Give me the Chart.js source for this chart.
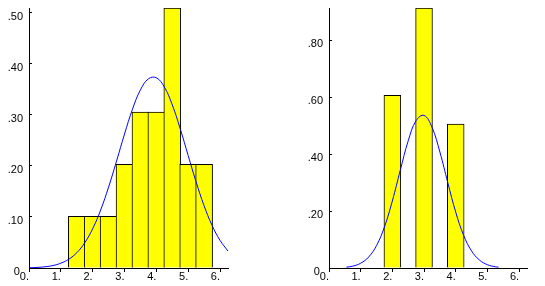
<!DOCTYPE html>
<html>
<head>
<meta charset="utf-8">
<script src="https://cdn.jsdelivr.net/npm/chart.js@4.4.1/dist/chart.umd.min.js"></script>
<style>
  html, body { margin: 0; padding: 0; background: #fff; }
  #wrap { position: relative; width: 545px; height: 286px; overflow: hidden; }
  canvas { position: absolute; top: 0; }
  #histLeft { left: 0; }
  #histRight { left: 250px; }
</style>
</head>
<body>
<div id="wrap">
  <canvas id="histLeft" width="236" height="286"></canvas>
  <canvas id="histRight" width="295" height="286"></canvas>
</div>
<script>
// Histogramme de gauche
const leftBinCenters = [1.5, 2, 2.5, 3, 3.5, 4, 4.5, 5, 5.5];
const leftBarHeights = [0.101, 0.101, 0.101, 0.203, 0.305, 0.305, 0.509, 0.203, 0.203];
const leftCurveX = [0, 0.25, 0.5, 0.75, 1, 1.25, 1.5, 1.75, 2, 2.25, 2.5, 2.75, 3, 3.25,
                    3.5, 3.75, 4, 4.25, 4.5, 4.75, 5, 5.25, 5.5, 5.75, 6, 6.25];
const leftCurveY = [0.0005, 0.0011, 0.0024, 0.0048, 0.0094, 0.0172, 0.0299, 0.0493, 0.0768,
                    0.1134, 0.1584, 0.2094, 0.2622, 0.3108, 0.3487, 0.3703, 0.3724, 0.3544,
                    0.3194, 0.2725, 0.2200, 0.1682, 0.1217, 0.0834, 0.0541, 0.0332];
const leftYTickValues = [0, 0.1, 0.2, 0.3, 0.4, 0.5];
const leftYTickLabels = ['0 ', '.10', '.20', '.30', '.40', '.50'];
const leftYMax = 0.509;

// Histogramme de droite
const rightBinCenters = [2, 3, 4];
const rightBarHeights = [0.606, 0.913, 0.505];
const rightCurveX = [0.55, 0.75, 1, 1.25, 1.5, 1.75, 2, 2.25, 2.5, 2.75, 3, 3.25, 3.5,
                     3.75, 4, 4.25, 4.5, 4.75, 5, 5.25, 5.35];
const rightCurveY = [0.0028, 0.0065, 0.0167, 0.0384, 0.0787, 0.1442, 0.2356, 0.3433, 0.4464,
                     0.5177, 0.5358, 0.4946, 0.4074, 0.2994, 0.1962, 0.1148, 0.0599, 0.0279,
                     0.0116, 0.0043, 0.0028];
const rightYTickValues = [0, 0.2, 0.4, 0.6, 0.8];
const rightYTickLabels = ['0 ', '.20', '.40', '.60', '.80'];
const rightYMax = 0.913;

// Axe horizontal commun
const xTickValues = [0, 1, 2, 3, 4, 5, 6];
const xTickLabels = ['0.', '1.', '2.', '3.', '4.', '5.', '6.'];
const xMax = 6.25;
const binWidth = 0.5;

const axisFont = { family: '"Liberation Sans", Arial, sans-serif', size: 11 };

function makeHistogram(canvas, opts) {
    const plotWidth = canvas.width - opts.yAxisWidth - opts.padRight;
    // bordure de 1px partagée entre barres voisines
    const barPx = plotWidth / xMax * binWidth + 1;

    return new Chart(canvas, {
        type: 'bar',
        data: {
            datasets: [
                {
                    type: 'line',
                    data: opts.curveX.map((x, i) => ({ x: x, y: opts.curveY[i] })),
                    borderColor: '#0000ff',
                    borderWidth: 1,
                    pointRadius: 0,
                    tension: 0.4,
                    fill: false,
                    order: 0
                },
                {
                    data: opts.binCenters.map((x, i) => ({ x: x, y: opts.barHeights[i] })),
                    backgroundColor: '#ffff00',
                    borderColor: '#000000',
                    borderWidth: 1,
                    borderSkipped: 'start',
                    barThickness: barPx,
                    order: 1
                }
            ]
        },
        options: {
            responsive: false,
            animation: false,
            devicePixelRatio: 1,
            layout: { padding: { top: 8, right: opts.padRight, bottom: 0, left: 0 } },
            plugins: { legend: { display: false }, tooltip: { enabled: false } },
            scales: {
                x: {
                    type: 'linear',
                    min: 0,
                    max: xMax,
                    offset: false,
                    afterBuildTicks: scale => { scale.ticks = xTickValues.map(v => ({ value: v })); },
                    afterFit: scale => {
                        scale.height = 18;
                        scale.paddingLeft = 0;
                        scale.paddingRight = 0;
                    },
                    grid: { drawOnChartArea: false, drawTicks: true, tickLength: 4, offset: false, color: '#000' },
                    border: { display: true, color: '#000', width: 1 },
                    ticks: {
                        align: 'end',
                        padding: -2,
                        maxRotation: 0,
                        autoSkip: false,
                        color: '#000',
                        font: axisFont,
                        callback: (v, i) => xTickLabels[i]
                    }
                },
                y: {
                    type: 'linear',
                    min: 0,
                    max: opts.yMax,
                    afterBuildTicks: scale => { scale.ticks = opts.yTickValues.map(v => ({ value: v })); },
                    afterFit: scale => {
                        scale.width = opts.yAxisWidth;
                        scale.paddingTop = 0;
                        scale.paddingBottom = 0;
                    },
                    grid: { drawOnChartArea: false, drawTicks: true, tickLength: -3, color: '#000' },
                    border: { display: true, color: '#000', width: 1 },
                    ticks: {
                        padding: 9,
                        labelOffset: 4,
                        autoSkip: false,
                        color: '#000',
                        font: axisFont,
                        callback: (v, i) => opts.yTickLabels[i]
                    }
                }
            }
        }
    });
}

makeHistogram(document.getElementById('histLeft'), {
    binCenters: leftBinCenters, barHeights: leftBarHeights,
    curveX: leftCurveX, curveY: leftCurveY,
    yTickValues: leftYTickValues, yTickLabels: leftYTickLabels, yMax: leftYMax,
    yAxisWidth: 29, padRight: 8
});

makeHistogram(document.getElementById('histRight'), {
    binCenters: rightBinCenters, barHeights: rightBarHeights,
    curveX: rightCurveX, curveY: rightCurveY,
    yTickValues: rightYTickValues, yTickLabels: rightYTickLabels, yMax: rightYMax,
    yAxisWidth: 79, padRight: 18
});
</script>
</body>
</html>
